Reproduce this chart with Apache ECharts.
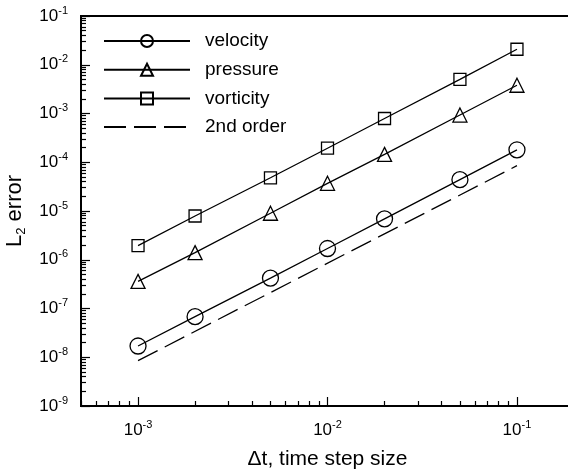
<!DOCTYPE html>
<html>
<head>
<meta charset="utf-8">
<script src="https://cdn.jsdelivr.net/npm/echarts@6/dist/echarts.min.js"></script>
<style>
  html, body { margin: 0; padding: 0; background: #fff; }
  #chart { width: 568px; height: 473px; }
</style>
</head>
<body>
<div id="chart"></div>
<script>
// time step sizes
const dt = [1e-3, 2e-3, 5e-3, 1e-2, 2e-2, 5e-2, 1e-1];
// L2 errors
const velocity = [1.7e-8, 6.8e-8, 4.2e-7, 1.7e-6, 6.9e-6, 4.4e-5, 1.8e-4];
const pressure = [3.6e-7, 1.4e-6, 9.0e-6, 3.7e-5, 1.45e-4, 9.3e-4, 3.8e-3];
const vorticity = [1.95e-6, 7.9e-6, 4.8e-5, 1.94e-4, 7.9e-4, 5.0e-3, 2.08e-2];
// reference slope line
const orderX = [1e-3, 1e-1];
const orderY = [8.5e-9, 8.5e-5];

const xMajor = [1e-3, 1e-2, 1e-1];
const yMajor = [1e-9, 1e-8, 1e-7, 1e-6, 1e-5, 1e-4, 1e-3, 1e-2, 1e-1];

const minorIn = (decades) => {
    const out = [];
    decades.forEach(d => { for (let k = 2; k <= 9; k++) out.push(k * d); });
    return out;
};
const xMinor = minorIn([1e-4, 1e-3, 1e-2, 1e-1]);
const yMinor = minorIn([1e-9, 1e-8, 1e-7, 1e-6, 1e-5, 1e-4, 1e-3, 1e-2]);

const pairs = (xs, ys) => xs.map((x, i) => [x, ys[i]]);
const powLabel = v => '{b|10}{s|' + Math.round(Math.log10(v)) + '}';

const font = 'Liberation Sans, Arial, Helvetica, sans-serif';
const labelRich = {
    b: { fontSize: 17, lineHeight: 22, color: '#000', fontFamily: font },
    s: { fontSize: 11, lineHeight: 11, verticalAlign: 'top', color: '#000', fontFamily: font },
};

const X_MIN = 5e-4, X_MAX = 0.2, Y_MIN = 1e-9, Y_MAX = 1e-1;

const chart = echarts.init(document.getElementById('chart'), null, { renderer: 'canvas' });

const markerStyle = { color: 'rgba(0,0,0,0)', borderColor: '#000', borderWidth: 1.3 };
const lineStyle = { color: '#000', width: 1.3 };

const option = {
    backgroundColor: '#fff',
    animation: false,
    grid: {
        left: 81, top: 16, right: -6, bottom: 67,
        outerBoundsMode: 'none',
        show: true, borderColor: '#000', borderWidth: 2,
    },
    legend: {
        orient: 'vertical',
        left: 98,
        top: 26,
        itemWidth: 86,
        itemHeight: 15,
        itemGap: 8.7,
        textStyle: { fontSize: 19, lineHeight: 20, color: '#000', fontFamily: font, padding: [0, 0, 0, 10] },
        data: ['velocity', 'pressure', 'vorticity', '2nd order'],
    },
    xAxis: [
        {
            type: 'log', min: X_MIN, max: X_MAX, position: 'bottom',
            name: 'Δt, time step size', nameLocation: 'middle', nameGap: 43,
            nameTextStyle: { fontSize: 21, color: '#000', fontFamily: font },
            axisLine: { lineStyle: { color: '#000', width: 2 } },
            axisTick: { inside: true, length: 9, customValues: xMajor, lineStyle: { color: '#000', width: 1.2 } },
            axisLabel: { customValues: xMajor, margin: 13, formatter: powLabel, rich: labelRich },
            splitLine: { show: false },
        },
        {
            // minor ticks 2..9 in every decade
            type: 'log', min: X_MIN, max: X_MAX, position: 'bottom',
            axisLine: { show: false },
            axisTick: { inside: true, length: 5, customValues: xMinor, lineStyle: { color: '#000', width: 1.2 } },
            axisLabel: { show: false },
            splitLine: { show: false },
        },
    ],
    yAxis: [
        {
            type: 'log', min: Y_MIN, max: Y_MAX, position: 'left',
            name: '{n|L}{sub|2}{n| error}', nameLocation: 'middle', nameGap: 34,
            nameTextStyle: {
                padding: [0, 0, 6, 0],
                rich: {
                    n: { fontSize: 22, lineHeight: 26, color: '#000', fontFamily: font },
                    sub: { fontSize: 13, lineHeight: 13, verticalAlign: 'bottom', color: '#000', fontFamily: font },
                },
            },
            axisLine: { lineStyle: { color: '#000', width: 2 } },
            axisTick: { inside: true, length: 9, customValues: yMajor, lineStyle: { color: '#000', width: 1.2 } },
            axisLabel: { customValues: yMajor, margin: 13, formatter: powLabel, rich: labelRich },
            splitLine: { show: false },
        },
        {
            type: 'log', min: Y_MIN, max: Y_MAX, position: 'left',
            axisLine: { show: false },
            axisTick: { inside: true, length: 5, customValues: yMinor, lineStyle: { color: '#000', width: 1.2 } },
            axisLabel: { show: false },
            splitLine: { show: false },
        },
    ],
    series: [
        {
            name: 'velocity', type: 'line', data: pairs(dt, velocity),
            symbol: 'circle', symbolSize: 16,
            itemStyle: markerStyle, lineStyle: lineStyle,
        },
        {
            name: 'pressure', type: 'line', data: pairs(dt, pressure),
            symbol: 'triangle', symbolSize: 14,
            itemStyle: markerStyle, lineStyle: lineStyle,
        },
        {
            name: 'vorticity', type: 'line', data: pairs(dt, vorticity),
            symbol: 'rect', symbolSize: 12,
            itemStyle: markerStyle, lineStyle: lineStyle,
        },
        {
            name: '2nd order', type: 'line', data: pairs(orderX, orderY),
            symbol: 'circle', showSymbol: false,
            itemStyle: { color: 'rgba(0,0,0,0)', borderColor: 'rgba(0,0,0,0)' },
            lineStyle: { color: '#000', width: 1.3, type: [22, 8] },
        },
    ],
};

chart.setOption(option);
</script>
</body>
</html>
